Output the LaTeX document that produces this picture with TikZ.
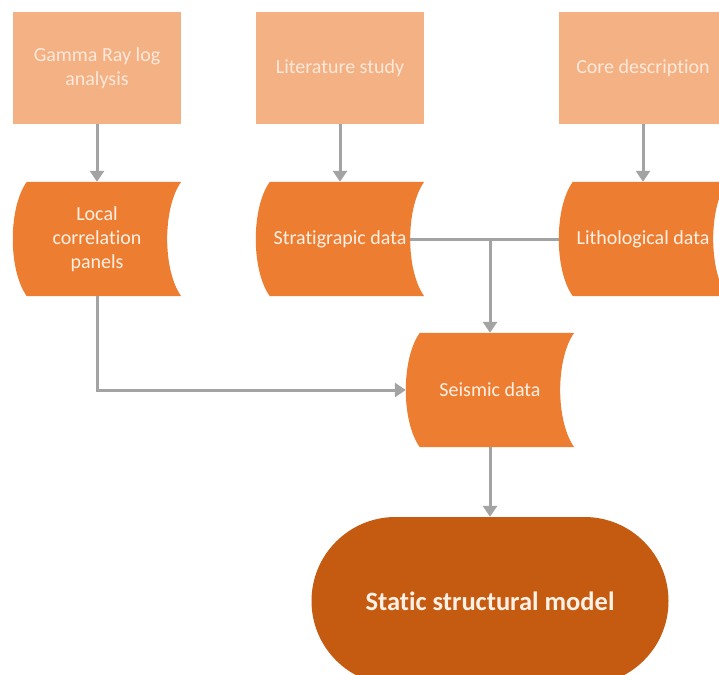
\documentclass[tikz,border=0pt]{standalone}
\usepackage{fontspec}
\setmainfont{Carlito}[Ligatures=NoCommon]
\usetikzlibrary{arrows.meta,calc,backgrounds}
\definecolor{lightor}{HTML}{F4B183}
\definecolor{midor}{HTML}{ED7D31}
\definecolor{darkor}{HTML}{C55A11}
\definecolor{lightxt}{HTML}{FCE9DC}
\definecolor{datatxt}{HTML}{FFF1E6}
\definecolor{conn}{HTML}{A3A3A3}
\tikzset{
  srcbox/.style={rectangle, fill=lightor, minimum width=168pt, minimum height=112pt,
    text=lightxt, font=\fontsize{20}{24}\selectfont, align=center, inner sep=0pt},
  datanode/.style={rectangle, minimum width=168pt, minimum height=114pt,
    text=datatxt, font=\fontsize{20}{24}\selectfont, align=center, inner sep=0pt},
  termnode/.style={rectangle, rounded corners=84pt, fill=darkor, minimum width=357pt,
    minimum height=168pt, text=datatxt, font=\fontsize{26.5}{30}\selectfont\bfseries, inner sep=0pt},
  flow/.style={draw=conn, line width=3pt, -{Triangle[width=14pt,length=11pt]}},
  link/.style={draw=conn, line width=3pt},
}
\newcommand\storeddata[1]{%
  \fill[midor] ([xshift=14pt]#1.north west) -- (#1.north east)
    .. controls ($(#1.north east)+(-18.7,26)$) and ($(#1.south east)+(-18.7,-26)$) .. (#1.south east)
    -- ([xshift=14pt]#1.south west)
    .. controls ($(#1.south west)+(-4.7,-26)$) and ($(#1.north west)+(-4.7,26)$) .. cycle;}
\begin{document}
\begin{tikzpicture}[x=1pt,y=-1pt]
\clip (0,0) rectangle (719,674);
% source boxes
\node[srcbox] (gamma) at (97,68) {Gamma Ray log\\analysis};
\node[srcbox] (lit) at (340,68) {Literature study};
\node[srcbox] (core) at (643,68) {Core description};
% data nodes
\node[datanode] (local) at (97,239) {Local\\correlation\\panels};
\node[datanode] (strat) at (340,239) {Stratigrapic data};
\node[datanode] (litho) at (643,239) {Lithological data};
\node[datanode] (seis) at (490,390) {Seismic data};
% terminal
\node[termnode] (model) at (490,601) {Static structural model};
\begin{scope}[on background layer]
  \fill[white] (0,0) rectangle (719,674);
  \storeddata{local}
  \storeddata{strat}
  \storeddata{litho}
  \storeddata{seis}
\end{scope}
% connectors
\draw[flow] (gamma.south) -- (local.north);
\draw[flow] (lit.south) -- (strat.north);
\draw[flow] (core.south) -- (litho.north);
\coordinate (j) at (seis.north |- strat.east);
\draw[link] ([xshift=-14pt]strat.east) -- (litho.west);
\draw[flow] (j) -- (seis.north);
\draw[flow] (local.south) -- (local.south |- seis.west) -- (seis.west);
\draw[flow] (seis.south) -- (model.north);
\end{tikzpicture}
\end{document}
